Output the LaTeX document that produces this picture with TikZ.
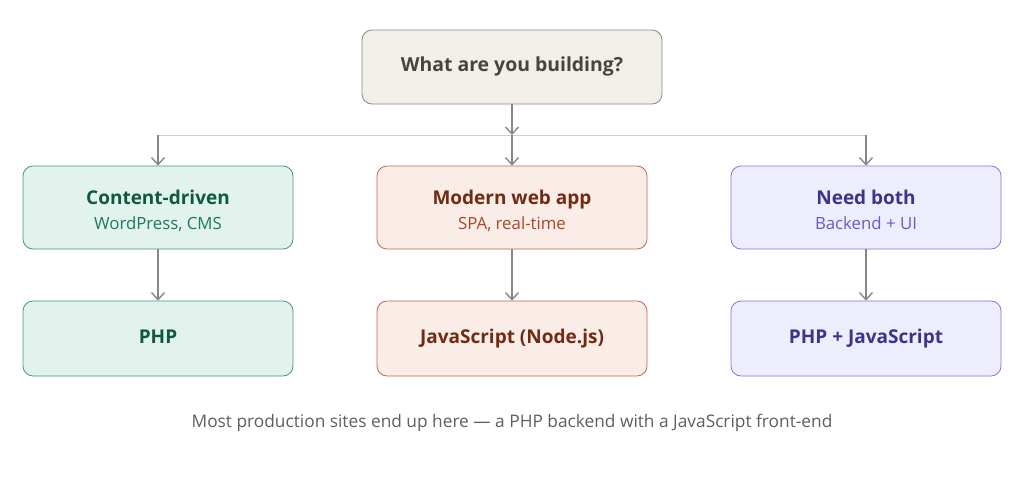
\documentclass[tikz,border=0pt]{standalone}
\usepackage{fontspec}
\setmainfont{Open Sans}
\usetikzlibrary{arrows.meta,positioning}
\definecolor{gline}{HTML}{888780}
\definecolor{bus}{HTML}{D3D1C7}
\definecolor{topfill}{HTML}{F1EFE8}
\definecolor{topdraw}{HTML}{8A8880}
\definecolor{toptext}{HTML}{444441}
\definecolor{gfill}{HTML}{E1F3EC}
\definecolor{gdraw}{HTML}{3E9C74}
\definecolor{gtitle}{HTML}{0F5A3E}
\definecolor{gsub}{HTML}{1D7A55}
\definecolor{ofill}{HTML}{FAECE7}
\definecolor{odraw}{HTML}{C0694A}
\definecolor{otitle}{HTML}{712B13}
\definecolor{osub}{HTML}{A9462A}
\definecolor{pfill}{HTML}{EEEDFE}
\definecolor{pdraw}{HTML}{7F77DD}
\definecolor{ptitle}{HTML}{3C3489}
\definecolor{psub}{HTML}{645BC8}
\definecolor{note}{HTML}{5F5E5A}
\tikzset{
  box/.style={rounded corners=10pt, line width=0.8pt, minimum width=270pt, inner sep=0pt, text height=13.5pt, text depth=3.8pt},
  l1/.style={box, minimum height=83pt},
  l2/.style={box, minimum height=75pt},
  arr/.style={draw=gline, line width=1.6pt, -{Straight Barb[length=7pt,width=13pt,line width=1.4pt]}},
  ttl/.style={font=\fontsize{19}{22}\selectfont\bfseries},
  capline/.style={inner sep=0pt, text height=13.5pt, text depth=0pt},
  subline/.style={inner sep=0pt, text height=11.9pt, text depth=0pt, font=\fontsize{16.8}{20}\selectfont},
}
\begin{document}
\begin{tikzpicture}[x=1pt,y=-1pt]
\useasboundingbox (0,0) rectangle (1024,482);
\node[box, minimum width=300pt, minimum height=74pt, fill=topfill, draw=topdraw, text=toptext, font=\fontsize{19.4}{24}\selectfont\bfseries] (q) at (512,67) {What are you building?};
\coordinate (j) at (512,135);
\coordinate (jl) at (158,135);
\coordinate (jr) at (866,135);
\node[l1, fill=gfill, draw=gdraw] (a) at (158,207.5) {};
\node[l1, fill=ofill, draw=odraw] (b) at (512,207.5) {};
\node[l1, fill=pfill, draw=pdraw] (c) at (866,207.5) {};
\node[capline, ttl, text=gtitle] (at) at (158,197.5) {Content-driven};
\node[subline, text=gsub] (as) at (158,223.7) {WordPress, CMS};
\node[capline, ttl, text=otitle] (bt) at (512,197.5) {Modern web app};
\node[subline, text=osub] (bs) at (512,223.7) {SPA, real-time};
\node[capline, ttl, text=ptitle] (ct) at (866,197.5) {Need both};
\node[subline, text=psub] (cs) at (866,223.7) {Backend + UI};
\node[l2, fill=gfill, draw=gdraw, text=gtitle, ttl] (a2) at (158,338.5) {PHP};
\node[l2, fill=ofill, draw=odraw, text=otitle, ttl] (b2) at (512,338.5) {JavaScript (Node.js)};
\node[l2, fill=pfill, draw=pdraw, text=ptitle, ttl] (c2) at (866,338.5) {PHP + JavaScript};
\draw[bus, line width=0.8pt] (jl) -- (jr);
\draw[arr] (q.south) -- (j);
\draw[arr] (jl) -- (a.north);
\draw[arr] (j) -- (b.north);
\draw[arr] (jr) -- (c.north);
\draw[arr] (a.south) -- (a2.north);
\draw[arr] (b.south) -- (b2.north);
\draw[arr] (c.south) -- (c2.north);
\node[inner sep=0pt, text height=12.3pt, text depth=0pt, text=note, font=\fontsize{17.3}{20}\selectfont] (n) at (512,421) {Most production sites end up here — a PHP backend with a JavaScript front-end};
\end{tikzpicture}
\end{document}
